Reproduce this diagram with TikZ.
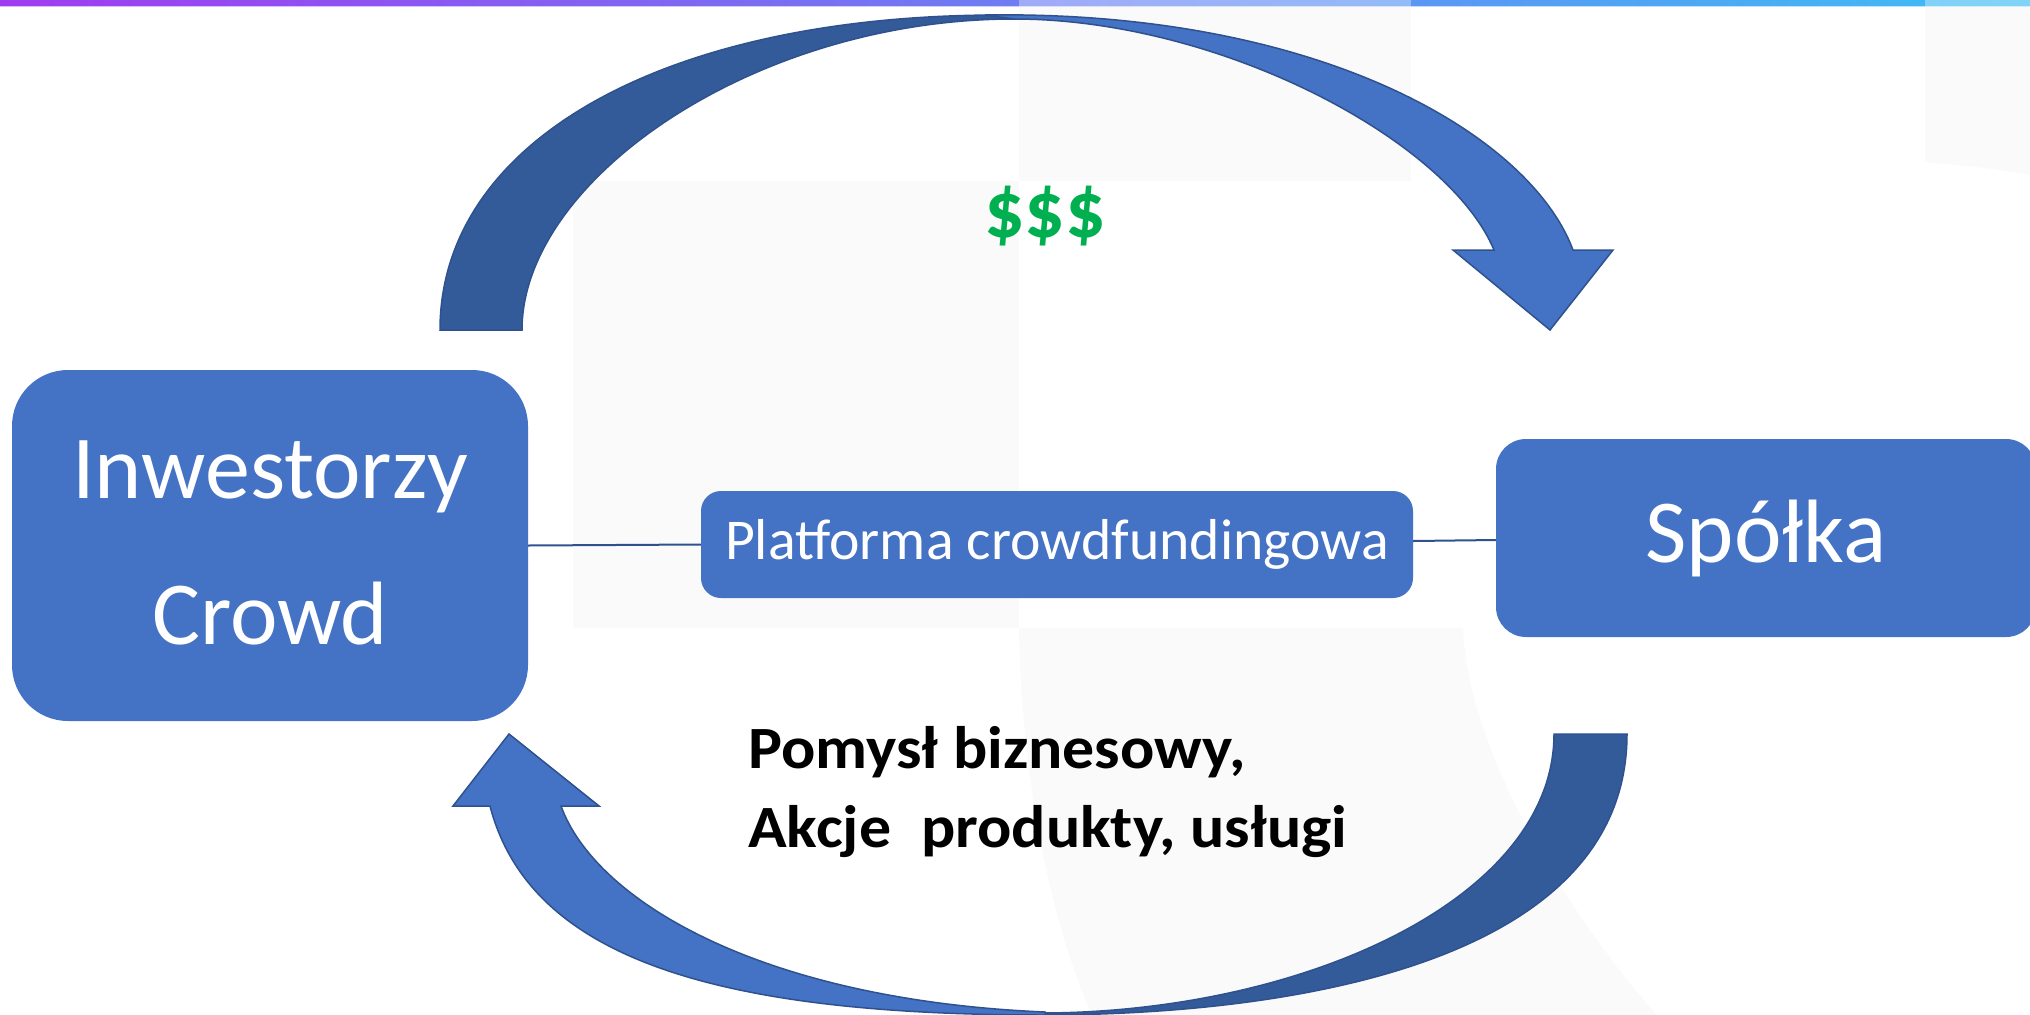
\documentclass[tikz,border=0pt]{standalone}
\usepackage{fontspec}
\setmainfont{Carlito}
\newfontfamily\widefont[FakeStretch=1.065]{Carlito}
\definecolor{boxblue}{HTML}{4472C4}
\definecolor{darkblue}{HTML}{335A99}
\definecolor{edgeblue}{HTML}{2F528F}
\definecolor{moneygreen}{HTML}{00B050}
\definecolor{faint}{HTML}{FAFAFA}
\definecolor{barleft}{RGB}{160,60,240}
\definecolor{barmid}{RGB}{115,115,245}
\definecolor{barright}{RGB}{60,190,245}
\begin{document}
\begin{tikzpicture}[x=1pt,y=-1pt,
  box/.style={fill=boxblue, draw=none, text=white, align=center, inner sep=0pt},
  conn/.style={draw=edgeblue, line width=2pt},
  band/.style={draw=edgeblue, line width=1.5pt, line join=miter},
  lbl/.style={inner sep=0pt, anchor=base west},
]
\useasboundingbox (0,0) rectangle (2030,1015);
\fill[white] (0,0) rectangle (2030,1015);
% faint background shapes
\fill[faint] (573,181) rectangle (1019,628);
\fill[faint] (1019,0) rectangle (1411,181);
\fill[faint] (1019,628) -- (1463,628) .. controls (1468,760) and (1580,930) .. (1657,1015)
  -- (1092,1015) .. controls (1050,920) and (1022,780) .. (1019,628) -- cycle;
\fill[faint] (1925,0) -- (2030,0) -- (2030,175) .. controls (1990,168) .. (1925,162) -- cycle;
% top bar
\shade[left color=barleft, middle color=barmid, right color=barright] (0,0) rectangle (2030,5);
\shade[left color=barleft, middle color=barmid, right color=barright, opacity=0.35] (0,5) rectangle (2030,6.5);
\fill[white, opacity=0.35] (1019,0) rectangle (1411,6.5);
\fill[white, opacity=0.35] (1925,0) rectangle (2030,6.5);

% top curved arrow (Inwestorzy -> Spółka)
\filldraw[band, fill=darkblue] (440,330) .. controls (440,141) and (664,15) .. (1000,15)
  -- (1014,19) .. controls (754,19) and (522,180) .. (522,330) -- cycle;
\filldraw[band, fill=boxblue] (985,15) .. controls (1320,10) and (1530,135) .. (1573,250)
  -- (1613,250) -- (1550,330) -- (1453,250) -- (1494,250)
  .. controls (1448,140) and (1220,19) .. (1014,19) -- cycle;

% bottom curved arrow (Spółka -> Inwestorzy)
\filldraw[band, fill=darkblue] (1627,734) .. controls (1627,960) and (1300,1015) .. (1040,1015)
  -- (1040,1013) .. controls (1300,1013) and (1554,900) .. (1554,734) -- cycle;
\filldraw[band, fill=boxblue] (490,806) .. controls (530,960) and (720,1015) .. (1045,1015)
  -- (1045,1012) .. controls (760,1000) and (595,900) .. (561,806)
  -- (599,806) -- (509,734) -- (453,806) -- cycle;

% boxes
\node[box, rounded corners=56pt, minimum width=516pt, minimum height=351pt,
  font=\fontsize{90pt}{146pt}\selectfont] (inv) at (270,545.5) {Inwestorzy\\Crowd\rule[-5pt]{0pt}{5pt}};
\node[box, rounded corners=20pt, minimum width=712pt, minimum height=107pt,
  font=\fontsize{57.7pt}{70pt}\selectfont] (plat) at (1057,544.5) {Platforma crowdfundingowa};
\node[box, rounded corners=30pt, minimum width=540pt, minimum height=198pt,
  font=\fontsize{90pt}{108pt}\selectfont] (spolka) at (1766,538) {Spółka};

\draw[conn] (inv.east) -- (plat.west);
\draw[conn] ([yshift=3.5pt]plat.east) -- ([yshift=-2pt]spolka.west);

% texts
\node[inner sep=0pt, anchor=base, text=moneygreen, font=\bfseries\fontsize{80pt}{96pt}\selectfont] (money) at (1045,237) {\$\$\$};
\node[lbl, font=\widefont\bfseries\fontsize{60pt}{72pt}\selectfont] (idea) at (748,768) {Pomysł biznesowy,};
\node[lbl, font=\widefont\bfseries\fontsize{60pt}{72pt}\selectfont] (shares) at (748,847) {Akcje\hspace{0.5em}produkty, usługi};
\end{tikzpicture}
\end{document}
